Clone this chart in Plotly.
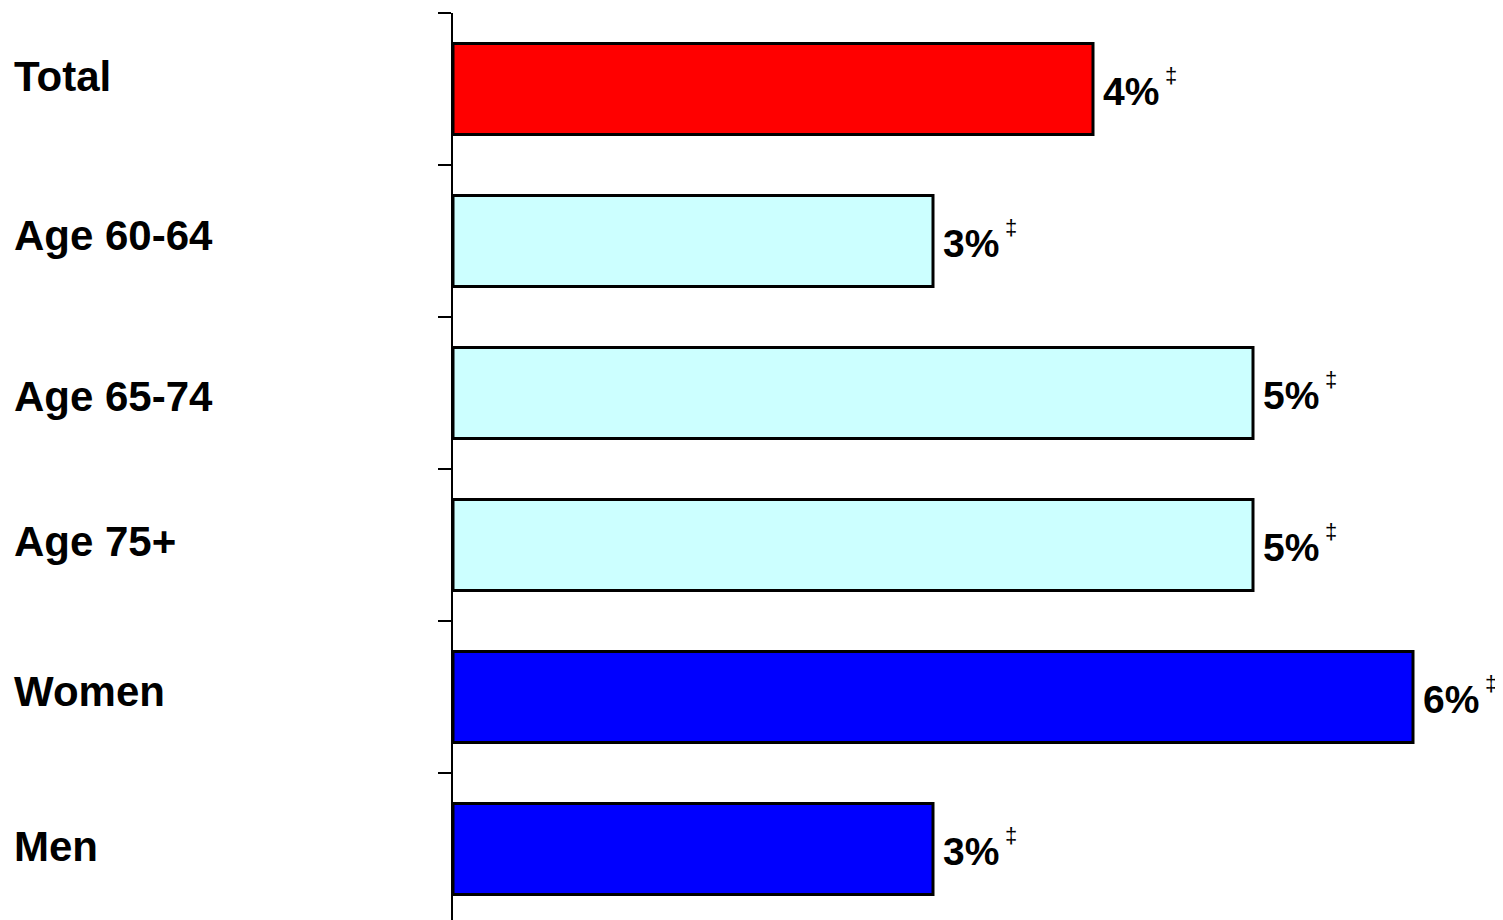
import plotly.graph_objects as go

categories = ["Total", "Age 60-64", "Age 65-74", "Age 75+", "Women", "Men"]
values = [4, 3, 5, 5, 6, 3]
value_labels = ["4%", "3%", "5%", "5%", "6%", "3%"]
marker_note = "‡"
bar_colors = ["#FF0000", "#CCFFFF", "#CCFFFF", "#CCFFFF", "#0000FF", "#0000FF"]

# small vertical nudges of category labels (pixels), as in the reference layout
label_nudge = [13, 6, -3, 4, 6, 3]

FONT = "Liberation Sans, Arial, sans-serif"
W, H = 1503, 920
PAGE_OFFSET = 8  # default body margin of the html page
ML, MR, MT, MB = 453 - PAGE_OFFSET, 0, 13 - PAGE_OFFSET, 0
px_per_unit = 160.0
band_px = 152.0
plot_w = W - ML - MR
plot_h = H - MT - MB

fig = go.Figure()
fig.add_trace(go.Bar(
    y=categories,
    x=values,
    orientation="h",
    width=0.6,
    marker=dict(color=bar_colors, line=dict(color="black", width=3)),
    hoverinfo="skip",
))

annotations = []
for cat, v, lab, nud in zip(categories, values, value_labels, label_nudge):
    annotations.append(dict(
        x=-(ML + PAGE_OFFSET - 12) / plot_w, xref="paper", y=cat, yref="y",
        text="<b>" + cat + "</b>", showarrow=False, xanchor="left",
        yanchor="middle", yshift=nud,
        font=dict(family=FONT, size=42, color="black"),
    ))
    annotations.append(dict(
        x=v, xref="x", y=cat, yref="y", text="<b>" + lab + "</b>",
        showarrow=False, xanchor="left", yanchor="middle", xshift=8, yshift=-2,
        font=dict(family=FONT, size=39, color="black"),
    ))
    annotations.append(dict(
        x=v, xref="x", y=cat, yref="y", text=marker_note,
        showarrow=False, xanchor="left", yanchor="middle", xshift=70, yshift=14,
        font=dict(family=FONT, size=22, color="black"),
    ))

fig.update_layout(
    width=W, height=H,
    margin=dict(l=ML, r=MR, t=MT, b=MB, pad=0),
    paper_bgcolor="white", plot_bgcolor="white",
    showlegend=False,
    annotations=annotations,
    xaxis=dict(range=[0, plot_w / px_per_unit], visible=False, fixedrange=True),
    yaxis=dict(
        type="category",
        categoryorder="array", categoryarray=categories,
        range=[plot_h / band_px - 0.5, -0.5],
        showline=True, linecolor="black", linewidth=2,
        ticks="outside", tickson="boundaries", ticklen=13, tickwidth=2,
        tickcolor="black",
        showticklabels=False, showgrid=False, zeroline=False,
        fixedrange=True,
    ),
)

fig.write_html("out.html")
